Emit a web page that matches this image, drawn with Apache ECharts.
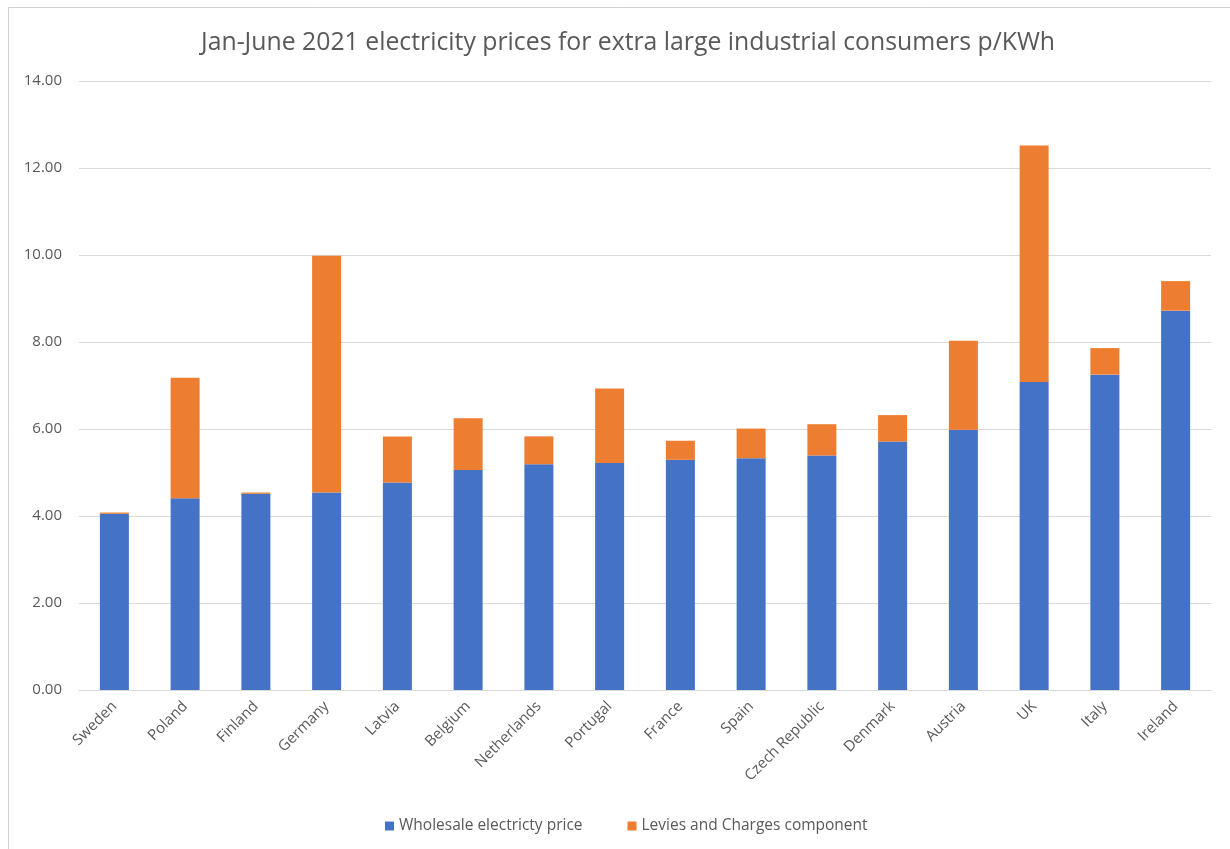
<!DOCTYPE html>
<html>
<head>
<meta charset="utf-8">
<title>Electricity prices for extra large industrial consumers</title>
<script src="https://cdn.jsdelivr.net/npm/echarts@6/dist/echarts.min.js"></script>
<style>
  html, body { margin: 0; padding: 0; background: #ffffff; }
  #chart { width: 1230px; height: 849px; }
</style>
</head>
<body>
<div id="chart"></div>
<script>
// Jan-June 2021, p/KWh
const countries = ['Sweden', 'Poland', 'Finland', 'Germany', 'Latvia', 'Belgium', 'Netherlands', 'Portugal',
  'France', 'Spain', 'Czech Republic', 'Denmark', 'Austria', 'UK', 'Italy', 'Ireland'];
const wholesale = [4.05, 4.41, 4.51, 4.54, 4.77, 5.06, 5.19, 5.22, 5.29, 5.33, 5.39, 5.71, 5.98, 7.08, 7.25, 8.72];
const levies = [0.03, 2.77, 0.03, 5.44, 1.06, 1.19, 0.64, 1.71, 0.44, 0.68, 0.72, 0.61, 2.05, 5.44, 0.61, 0.68];
const seriesNames = ['Wholesale electricty price', 'Levies and Charges component'];

const textColor = '#595959';
const gridColor = '#d9d9d9';
const fontFamily = "'Open Sans', 'Noto Sans', sans-serif";

const chart = echarts.init(document.getElementById('chart'), null, { renderer: 'canvas' });

chart.setOption({
  backgroundColor: '#ffffff',
  animation: false,
  textStyle: { fontFamily: fontFamily, color: textColor },
  title: {
    text: 'Jan-June 2021 electricity prices for extra large industrial consumers p/KWh',
    left: 196,
    top: 25,
    textStyle: { fontFamily: fontFamily, fontSize: 24.8, fontWeight: 'normal', color: textColor }
  },
  graphic: [{
    type: 'rect',
    shape: { x: 8.5, y: 7.5, width: 1400, height: 1000 },
    style: { fill: 'none', stroke: '#d0d0d0', lineWidth: 1 },
    silent: true,
    z: -1
  }],
  legend: {
    left: 380,
    top: 813,
    itemWidth: 9,
    itemHeight: 9,
    itemGap: 45,
    icon: 'rect',
    textStyle: { fontFamily: fontFamily, fontSize: 15.5, color: textColor },
    data: seriesNames
  },
  grid: { left: 79, right: 19, top: 81, bottom: 159, containLabel: false },
  xAxis: {
    type: 'category',
    data: countries,
    axisLine: { lineStyle: { color: gridColor, width: 1 } },
    axisTick: { show: false },
    axisLabel: { rotate: 45, interval: 0, margin: 14, fontSize: 15, color: textColor, fontFamily: fontFamily }
  },
  yAxis: {
    type: 'value',
    min: 0,
    max: 14,
    interval: 2,
    axisLine: { show: false },
    axisTick: { show: false },
    splitLine: { lineStyle: { color: gridColor, width: 1 } },
    axisLabel: {
      margin: 17,
      fontSize: 15,
      color: textColor,
      fontFamily: fontFamily,
      formatter: v => v.toFixed(2)
    }
  },
  series: [
    {
      name: seriesNames[0],
      type: 'bar',
      stack: 'price',
      data: wholesale,
      barCategoryGap: '59%',
      itemStyle: { color: '#4472C4' }
    },
    {
      name: seriesNames[1],
      type: 'bar',
      stack: 'price',
      data: levies,
      barCategoryGap: '59%',
      itemStyle: { color: '#ED7D31' }
    }
  ]
});
</script>
</body>
</html>
